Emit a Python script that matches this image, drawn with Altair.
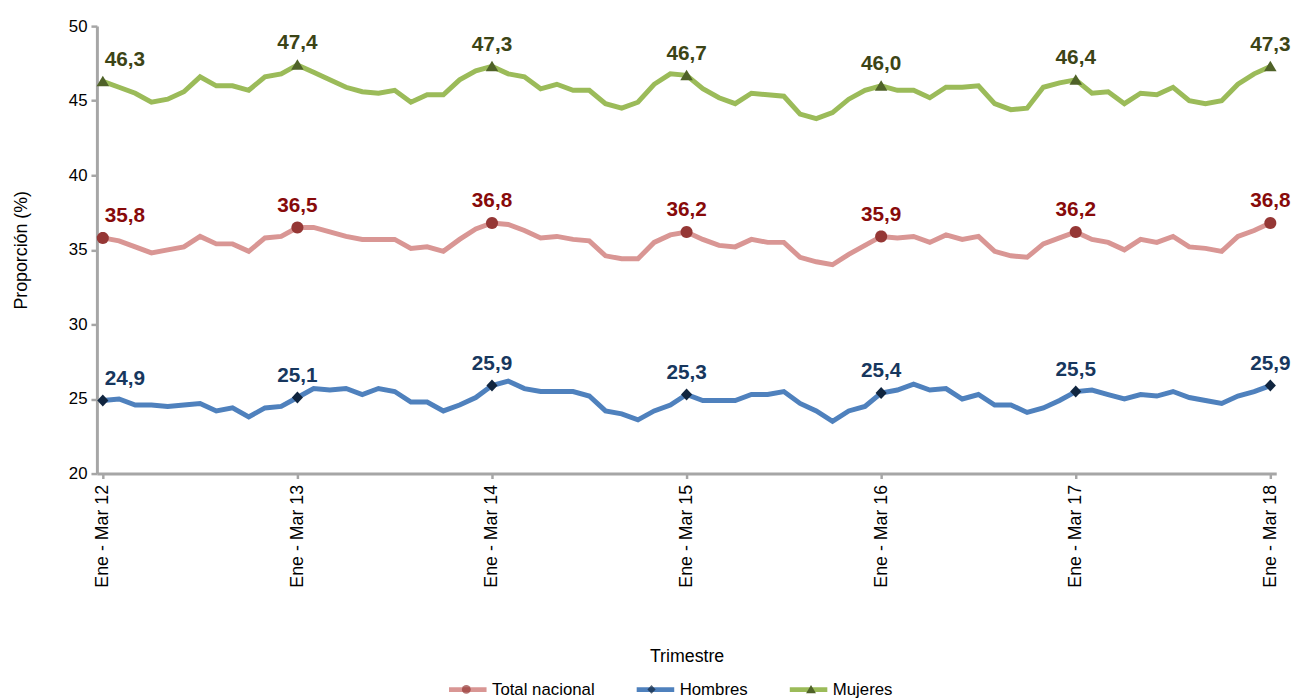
import math
import altair as alt
import pandas as pd

meses = ["Ene", "Feb", "Mar", "Abr", "May", "Jun", "Jul", "Ago", "Sep", "Oct", "Nov", "Dic"]
periodos = [f"{meses[i % 12]} - {meses[(i + 2) % 12]} {12 + (i + 2) // 12}" for i in range(73)]
ticks = periodos[::12]

series = ["Total nacional", "Hombres", "Mujeres"]

total = [35.8, 35.6, 35.2, 34.8, 35.0, 35.2, 35.9, 35.4, 35.4, 34.9, 35.8, 35.9,
         36.5, 36.5, 36.2, 35.9, 35.7, 35.7, 35.7, 35.1, 35.2, 34.9, 35.7, 36.4,
         36.8, 36.7, 36.3, 35.8, 35.9, 35.7, 35.6, 34.6, 34.4, 34.4, 35.5, 36.0,
         36.2, 35.7, 35.3, 35.2, 35.7, 35.5, 35.5, 34.5, 34.2, 34.0, 34.7, 35.3,
         35.9, 35.8, 35.9, 35.5, 36.0, 35.7, 35.9, 34.9, 34.6, 34.5, 35.4, 35.8,
         36.2, 35.7, 35.5, 35.0, 35.7, 35.5, 35.9, 35.2, 35.1, 34.9, 35.9, 36.3,
         36.8]
hombres = [24.9, 25.0, 24.6, 24.6, 24.5, 24.6, 24.7, 24.2, 24.4, 23.8, 24.4, 24.5,
           25.1, 25.7, 25.6, 25.7, 25.3, 25.7, 25.5, 24.8, 24.8, 24.2, 24.6, 25.1,
           25.9, 26.2, 25.7, 25.5, 25.5, 25.5, 25.2, 24.2, 24.0, 23.6, 24.2, 24.6,
           25.3, 24.9, 24.9, 24.9, 25.3, 25.3, 25.5, 24.7, 24.2, 23.5, 24.2, 24.5,
           25.4, 25.6, 26.0, 25.6, 25.7, 25.0, 25.3, 24.6, 24.6, 24.1, 24.4, 24.9,
           25.5, 25.6, 25.3, 25.0, 25.3, 25.2, 25.5, 25.1, 24.9, 24.7, 25.2, 25.5,
           25.9]
mujeres = [46.3, 45.9, 45.5, 44.9, 45.1, 45.6, 46.6, 46.0, 46.0, 45.7, 46.6, 46.8,
           47.4, 46.9, 46.4, 45.9, 45.6, 45.5, 45.7, 44.9, 45.4, 45.4, 46.4, 47.0,
           47.3, 46.8, 46.6, 45.8, 46.1, 45.7, 45.7, 44.8, 44.5, 44.9, 46.1, 46.8,
           46.7, 45.8, 45.2, 44.8, 45.5, 45.4, 45.3, 44.1, 43.8, 44.2, 45.1, 45.7,
           46.0, 45.7, 45.7, 45.2, 45.9, 45.9, 46.0, 44.8, 44.4, 44.5, 45.9, 46.2,
           46.4, 45.5, 45.6, 44.8, 45.5, 45.4, 45.9, 45.0, 44.8, 45.0, 46.1, 46.8,
           47.3]

line_colors = {"Total nacional": "#D99694", "Hombres": "#4F81BD", "Mujeres": "#9BBB59"}
marker_colors = {"Total nacional": "#953735", "Hombres": "#10253F", "Mujeres": "#4F6228"}
label_colors = {"Total nacional": "#870A0A", "Hombres": "#17375E", "Mujeres": "#3C4416"}


def poly_circle(r, n=24):
    pts = [(r * math.cos(2 * math.pi * k / n), r * math.sin(2 * math.pi * k / n)) for k in range(n)]
    return "M" + "L".join(f"{x:.4f},{y:.4f}" for x, y in pts) + "Z"


DIAMOND = "M0,-0.26L0.24,0L0,0.26L-0.24,0Z"
TRIANGLE = "M0,-0.24L0.27,0.21L-0.27,0.21Z"
marker_paths = {"Total nacional": poly_circle(0.26), "Hombres": DIAMOND, "Mujeres": TRIANGLE}

rows = []
for name, vals in zip(series, [total, hombres, mujeres]):
    for i, (p, v) in enumerate(zip(periodos, vals)):
        rows.append({"periodo": p, "idx": i, "serie": name, "valor": v})
df = pd.DataFrame(rows)

FONT = "Liberation Sans"

x_enc = alt.X(
    "periodo:N",
    sort=periodos,
    scale=alt.Scale(type="point", padding=0.365),
    axis=alt.Axis(
        values=ticks, labelAngle=270, labelFontSize=18, labelFont=FONT,
        labelColor="#000000", tickSize=5, tickColor="#A6A6A6", tickWidth=2.5,
        domainColor="#A6A6A6", domainWidth=3, labelPadding=6, labelOverlap=False,
        grid=False, title="Trimestre", titleFont=FONT, titleFontSize=18,
        titleFontWeight="normal", titleColor="#000000", titlePadding=61,
    ),
)
y_enc = alt.Y(
    "valor:Q",
    scale=alt.Scale(domain=[20, 50], nice=False, zero=False),
    axis=alt.Axis(
        values=[20, 25, 30, 35, 40, 45, 50], labelFontSize=17, labelFont=FONT,
        labelColor="#000000", tickSize=6, tickColor="#A6A6A6", tickWidth=2.5,
        domainColor="#A6A6A6", domainWidth=3, labelPadding=4, grid=False,
        title="Proporción  (%)", titleFont=FONT, titleFontSize=18,
        titleFontWeight="normal", titleColor="#000000", titlePadding=38,
    ),
)

base = alt.Chart(df).encode(x=x_enc, y=y_enc)

LEG_Y = 650

# legend A: the lines, with labels
lines = base.mark_line(strokeWidth=5).encode(
    stroke=alt.Stroke(
        "serie:N",
        scale=alt.Scale(domain=series, range=[line_colors[s] for s in series]),
        legend=alt.Legend(
            orient="none", legendX=354, legendY=LEG_Y, direction="horizontal", title=None,
            labelFont=FONT, labelFontSize=17, labelColor="#000000", columnPadding=32,
            labelOffset=3, padding=0, symbolType="stroke", symbolSize=1444,
            symbolStrokeWidth=5,
        ),
    )
)


def marker_legend(name, x, size, **kw):
    return alt.Legend(
        orient="none", legendX=x, legendY=LEG_Y + 21.5 - math.ceil(math.sqrt(size)) / 2,
        direction="horizontal", title=None, values=[name], labelExpr="''",
        labelFontSize=1, labelOffset=0, padding=0, symbolSize=size,
        symbolStrokeWidth=0, **kw,
    )


fill_dom = ["Total nacional", "Mujeres", "Hombres"]
shape_dom = ["Hombres", "Total nacional", "Mujeres"]
op_dom = ["Mujeres", "Total nacional", "Hombres"]

points = base.transform_filter("datum.idx % 12 == 0").mark_point(
    filled=True, size=2200, strokeWidth=0
).encode(
    fill=alt.Fill(
        "serie:N",
        scale=alt.Scale(domain=fill_dom, range=[marker_colors[s] for s in fill_dom]),
        legend=marker_legend("Total nacional", 369.5, 80, symbolType="circle"),
    ),
    shape=alt.Shape(
        "serie:N",
        scale=alt.Scale(domain=shape_dom, range=[marker_paths[s] for s in shape_dom]),
        legend=marker_legend("Hombres", 544, 1200, symbolFillColor=marker_colors["Hombres"]),
    ),
    opacity=alt.Opacity(
        "serie:N",
        scale=alt.Scale(type="ordinal", domain=op_dom, range=[1, 1, 1]),
        legend=marker_legend("Mujeres", 704, 1370, symbolType=TRIANGLE,
                             symbolFillColor=marker_colors["Mujeres"]),
    ),
)

lbl_expr = "replace(format(datum.valor, '.1f'), '.', ',')"
text_color = alt.Color(
    "serie:N",
    scale=alt.Scale(domain=series, range=[label_colors[s] for s in series]),
    legend=None,
)

text_first = base.transform_filter("datum.idx == 0").transform_calculate(
    lbl=lbl_expr
).mark_text(
    font=FONT, fontSize=21, fontWeight="bold", align="left", baseline="alphabetic", dx=2, dy=-16
).encode(text="lbl:N", color=text_color)

text_rest = base.transform_filter("datum.idx % 12 == 0 && datum.idx > 0").transform_calculate(
    lbl=lbl_expr
).mark_text(
    font=FONT, fontSize=21, fontWeight="bold", align="center", baseline="alphabetic", dy=-16
).encode(text="lbl:N", color=text_color)

chart = alt.layer(lines, points, text_first, text_rest).properties(
    width=1194, height=453
).configure_view(stroke=None)

chart.save("out.html", embed_options={"renderer": "svg", "actions": False})
